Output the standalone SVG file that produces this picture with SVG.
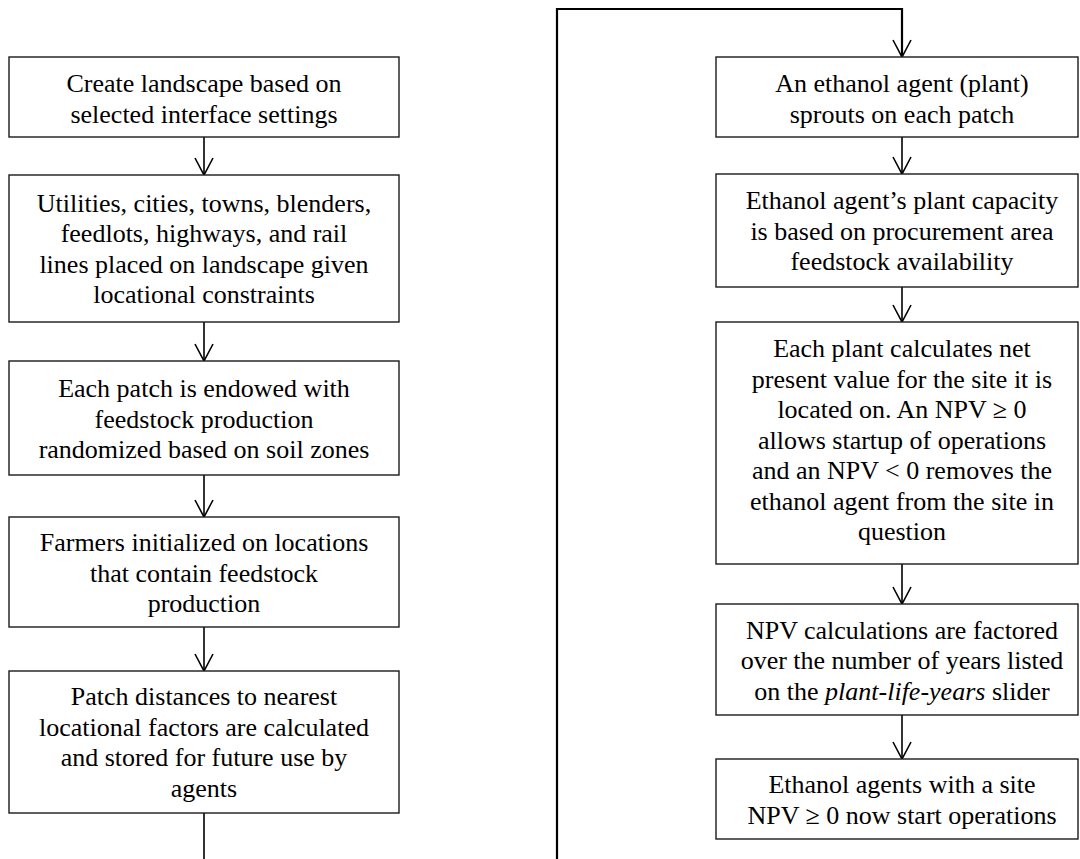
<svg xmlns="http://www.w3.org/2000/svg" width="1080" height="859" viewBox="0 0 1080 859" font-family="'Liberation Serif', 'Times New Roman', Tinos, 'DejaVu Serif', serif">
<style>
.box{fill:#fff;stroke:#1a1a1a;stroke-width:1.4}
.t{font-family:'Liberation Serif','Times New Roman',Tinos,'DejaVu Serif',serif;font-size:26px;fill:#000;text-anchor:middle}
.c{fill:none;stroke:#000;stroke-width:1.6}
.o{fill:none;stroke:#000;stroke-width:2.2}
</style>
<defs>
<marker id="v" markerUnits="userSpaceOnUse" markerWidth="24" markerHeight="24" viewBox="-20 -12 24 24" refX="0" refY="0" orient="auto">
<path d="M-17,-9 L0,0 L-17,9" fill="none" stroke="#000" stroke-width="1.6"/>
</marker>
</defs>
<g id="connectors">
<line class="c" x1="204" y1="137" x2="204" y2="175" marker-end="url(#v)"/>
<line class="c" x1="204" y1="322" x2="204" y2="361" marker-end="url(#v)"/>
<line class="c" x1="204" y1="475" x2="204" y2="517" marker-end="url(#v)"/>
<line class="c" x1="204" y1="627" x2="204" y2="671" marker-end="url(#v)"/>
<line class="c" x1="204" y1="813" x2="204" y2="859"/>
<polyline class="o" points="557,859 557,9 902,9 902,57" marker-end="url(#v)"/>
<line class="c" x1="902" y1="137" x2="902" y2="174" marker-end="url(#v)"/>
<line class="c" x1="902" y1="287" x2="902" y2="322" marker-end="url(#v)"/>
<line class="c" x1="902" y1="564" x2="902" y2="604" marker-end="url(#v)"/>
<line class="c" x1="902" y1="715" x2="902" y2="759" marker-end="url(#v)"/>
</g>
<g id="n1"><rect class="box" x="9" y="57" width="390" height="80"/>
<text class="t" x="204" y="91.5">Create landscape based on</text>
<text class="t" x="204" y="122.5">selected interface settings</text></g>
<g id="n2"><rect class="box" x="9" y="175" width="390" height="147"/>
<text class="t" x="204" y="211.5">Utilities, cities, towns, blenders,</text>
<text class="t" x="204" y="242">feedlots, highways, and rail</text>
<text class="t" x="204" y="272.5">lines placed on landscape given</text>
<text class="t" x="204" y="303">locational constraints</text></g>
<g id="n3"><rect class="box" x="9" y="361" width="390" height="114"/>
<text class="t" x="204" y="397">Each patch is endowed with</text>
<text class="t" x="204" y="427.5">feedstock production</text>
<text class="t" x="204" y="458">randomized based on soil zones</text></g>
<g id="n4"><rect class="box" x="9" y="517" width="390" height="110"/>
<text class="t" x="204" y="551">Farmers initialized on locations</text>
<text class="t" x="204" y="581.5">that contain feedstock</text>
<text class="t" x="204" y="612">production</text></g>
<g id="n5"><rect class="box" x="9" y="671" width="390" height="142"/>
<text class="t" x="204" y="705">Patch distances to nearest</text>
<text class="t" x="204" y="735.5">locational factors are calculated</text>
<text class="t" x="204" y="766">and stored for future use by</text>
<text class="t" x="204" y="796.5">agents</text></g>
<g id="r1"><rect class="box" x="716" y="57" width="362" height="80"/>
<text class="t" x="902" y="91.5">An ethanol agent (plant)</text>
<text class="t" x="902" y="122.5">sprouts on each patch</text></g>
<g id="r2"><rect class="box" x="716" y="174" width="362" height="113"/>
<text class="t" x="902" y="209">Ethanol agent’s plant capacity</text>
<text class="t" x="902" y="239.5">is based on procurement area</text>
<text class="t" x="902" y="270">feedstock availability</text></g>
<g id="r3"><rect class="box" x="716" y="322" width="362" height="242"/>
<text class="t" x="902" y="357">Each plant calculates net</text>
<text class="t" x="902" y="387.5">present value for the site it is</text>
<text class="t" x="902" y="418">located on. An NPV ≥ 0</text>
<text class="t" x="902" y="448.5">allows startup of operations</text>
<text class="t" x="902" y="479">and an NPV &lt; 0 removes the</text>
<text class="t" x="902" y="509.5">ethanol agent from the site in</text>
<text class="t" x="902" y="540">question</text></g>
<g id="r4"><rect class="box" x="716" y="604" width="362" height="111"/>
<text class="t" x="902" y="638.5">NPV calculations are factored</text>
<text class="t" x="902" y="669">over the number of years listed</text>
<text class="t" x="902" y="699.5">on the <tspan font-style="italic">plant-life-years</tspan> slider</text></g>
<g id="r5"><rect class="box" x="716" y="759" width="362" height="80"/>
<text class="t" x="902" y="793">Ethanol agents with a site</text>
<text class="t" x="902" y="823.5">NPV ≥ 0 now start operations</text></g>
</svg>
